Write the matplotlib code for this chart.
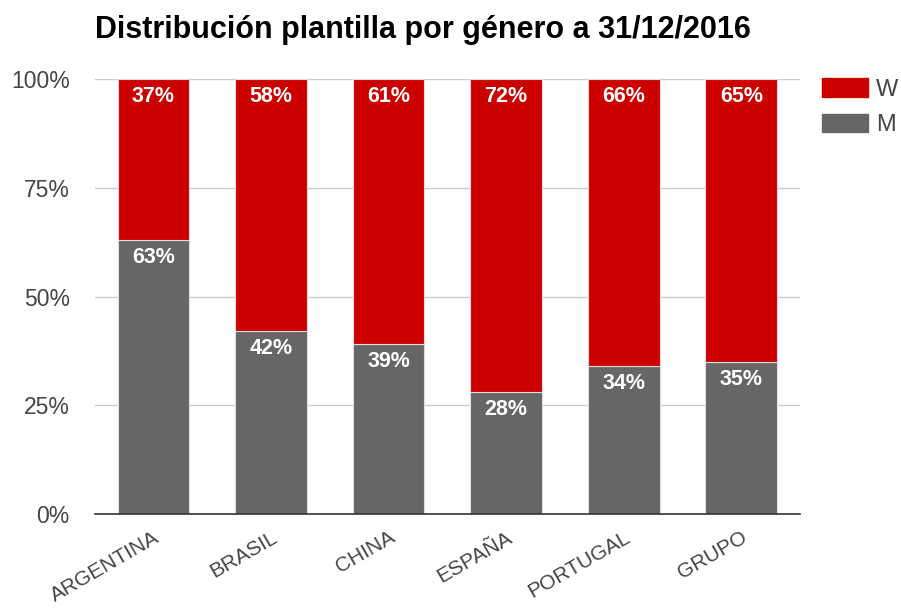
import matplotlib.pyplot as plt
from matplotlib.patches import Patch

plt.rcParams['font.family'] = ['Liberation Sans', 'DejaVu Sans']

paises = ['ARGENTINA', 'BRASIL', 'CHINA', 'ESPAÑA', 'PORTUGAL', 'GRUPO']
hombres = [63, 42, 39, 28, 34, 35]
mujeres = [37, 58, 61, 72, 66, 65]
ticks_y = [0, 25, 50, 75, 100]

rojo = '#cc0000'
gris = '#666666'

fig = plt.figure(figsize=(9.01, 6.09), dpi=100)
ax = fig.add_axes([0.105, 0.156, 0.783, 0.714])

x = range(len(paises))
ax.bar(x, hombres, width=0.61, color=gris, edgecolor='#dddddd', linewidth=0.8, zorder=3)
ax.bar(x, mujeres, bottom=hombres, width=0.61, color=rojo, edgecolor='#dddddd', linewidth=0.8, zorder=3)

for i, (m, w) in enumerate(zip(hombres, mujeres)):
    ax.text(i, m - 1.6, f'{m}%', ha='center', va='top', color='white',
            fontsize=15.5, fontweight='bold', zorder=4)
    ax.text(i, 98.4, f'{w}%', ha='center', va='top', color='white',
            fontsize=15.5, fontweight='bold', zorder=4)

ax.set_xlim(-0.5, len(paises) - 0.5)
ax.set_ylim(0, 100)
ax.set_yticks(ticks_y)
ax.set_yticklabels([f'{t}%' for t in ticks_y], color='#444444', fontsize=16.5)
ax.set_xticks(list(x))
ax.set_xticklabels(paises, rotation=30, ha='right', rotation_mode='anchor',
                   color='#444444', fontsize=15)
ax.tick_params(length=0)
ax.tick_params(axis='y', pad=18)
ax.tick_params(axis='x', pad=10)

ax.grid(axis='y', color='#cccccc', linewidth=1, zorder=0)
for s in ['top', 'right', 'left']:
    ax.spines[s].set_visible(False)
ax.spines['bottom'].set_color('#333333')
ax.spines['bottom'].set_linewidth(1.2)
ax.spines['bottom'].set_zorder(5)

fig.text(0.105, 0.951, 'Distribución plantilla por género a 31/12/2016',
         fontsize=22, fontweight='bold', ha='left', va='center')

handles = [Patch(color=rojo, label='W'), Patch(color=gris, label='M')]
fig.legend(handles=handles, loc='upper left', bbox_to_anchor=(0.912, 0.872),
           frameon=False, fontsize=17, handlelength=1.95, handleheight=0.85,
           labelcolor='#444444', handletextpad=0.35, labelspacing=0.55,
           borderpad=0, borderaxespad=0)

fig.savefig('out.png', dpi=100)
